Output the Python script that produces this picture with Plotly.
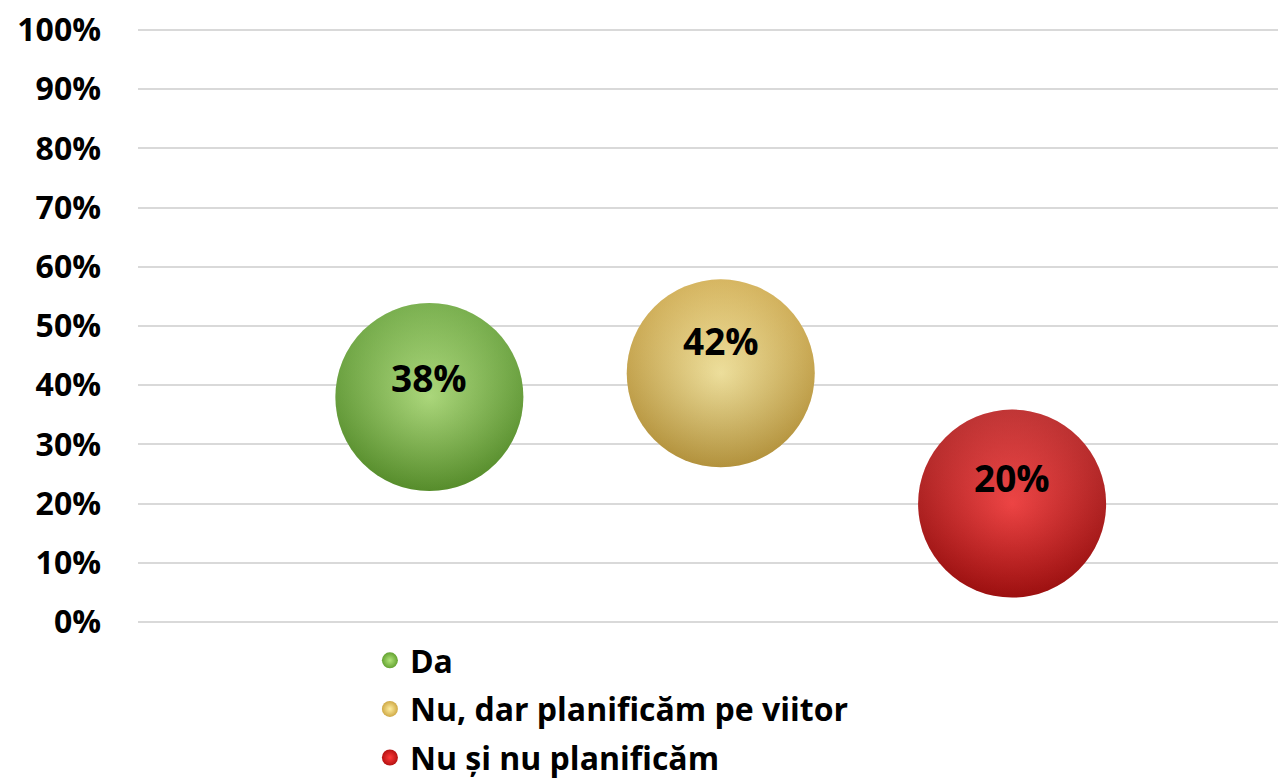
import plotly.graph_objects as go

categories = ["Da", "Nu, dar planificăm pe viitor", "Nu și nu planificăm"]
x_pos = [1, 2, 3]
values = [0.38, 0.42, 0.20]
labels = ["38%", "42%", "20%"]
tick_vals = [0, 0.1, 0.2, 0.3, 0.4, 0.5, 0.6, 0.7, 0.8, 0.9, 1.0]
tick_text = ["0%", "10%", "20%", "30%", "40%", "50%", "60%", "70%", "80%", "90%", "100%"]

center_colors = ["#b2e57a", "#ffeea0", "#ff3a3a"]
edge_colors = ["#64a332", "#cfa946", "#b51212"]
label_shift = [20, 33, 26]

FONT = "Open Sans"
BUBBLE = 188

fig = go.Figure()
for i, cat in enumerate(categories):
    # base sphere: marker.color is the rim, gradient colour is the centre
    fig.add_trace(go.Scatter(
        x=[x_pos[i]], y=[values[i]], mode="markers", name=cat,
        legendgroup=cat,
        marker=dict(size=BUBBLE, color=edge_colors[i], line=dict(width=0),
                    gradient=dict(type="radial", color=center_colors[i])),
        hoverinfo="skip",
    ))
    # vertical shading: lighter top, darker bottom
    fig.add_trace(go.Scatter(
        x=[x_pos[i]], y=[values[i]], mode="markers", showlegend=False,
        marker=dict(size=BUBBLE, color="rgba(255,255,255,0.15)", line=dict(width=0),
                    gradient=dict(type="vertical", color="rgba(0,0,0,0.14)")),
        hoverinfo="skip",
    ))

for i in range(len(categories)):
    fig.add_annotation(x=x_pos[i], y=values[i], text="<b>%s</b>" % labels[i],
                       showarrow=False, yshift=label_shift[i],
                       font=dict(family=FONT, size=37, color="#000000"))

fig.update_layout(
    width=1278, height=770,
    margin=dict(l=130, r=0, t=19, b=153, autoexpand=False),
    paper_bgcolor="white", plot_bgcolor="white",
    showlegend=True,
    legend=dict(orientation="v", x=0.202, xanchor="left", y=-0.0134, yanchor="top",
                font=dict(family=FONT, size=32, color="#000000", weight="bold"),
                tracegroupgap=4, itemsizing="trace", bgcolor="rgba(0,0,0,0)"),
    xaxis=dict(range=[0, 3.94], visible=False, showgrid=False, zeroline=False,
               automargin=False),
    yaxis=dict(range=[-0.005, 1.005], tickvals=tick_vals, ticktext=tick_text,
               showgrid=True, gridcolor="#d9d9d9", gridwidth=2, zeroline=False,
               showline=False, ticks="", ticklabelstandoff=36, automargin=False,
               ticklabeloverflow="allow",
               tickfont=dict(family=FONT, size=32, color="#000000", weight="bold")),
)

fig.write_html("out.html")
